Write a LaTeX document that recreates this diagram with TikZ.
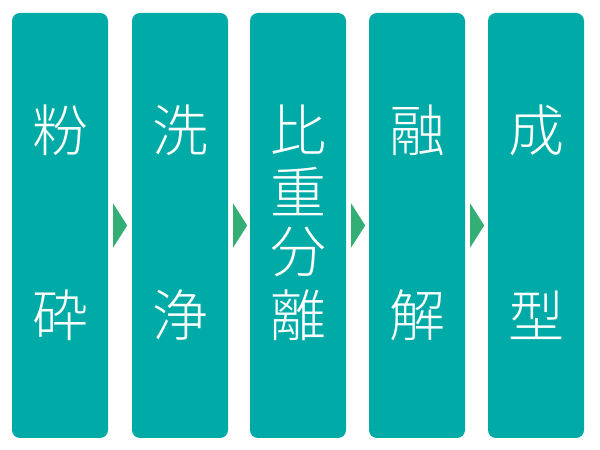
\documentclass[tikz,border=0pt]{standalone}
\usepackage{fontspec}
\newfontfamily\cjk{Noto Sans CJK JP Light}
\usetikzlibrary{calc}
\definecolor{boxteal}{HTML}{00AAA6}
\definecolor{arrgreen}{HTML}{33AE74}
\begin{document}
\begin{tikzpicture}[x=1pt,y=1pt,
  stage/.style={fill=boxteal, draw=none, rounded corners=8pt, minimum width=96pt, minimum height=425pt, inner sep=0pt},
  ch/.style={text=white, font=\cjk\fontsize{56}{56}\selectfont, inner sep=0pt},
  tri/.style={fill=arrgreen, draw=none}]
\useasboundingbox (0,0) rectangle (600,450);
\node[stage] (b1) at (60,224.5) {};
\node[stage] (b2) at (180,224.5) {};
\node[stage] (b3) at (298,224.5) {};
\node[stage] (b4) at (417,224.5) {};
\node[stage] (b5) at (536,224.5) {};
% texts
\node[ch] (t1a) at (60,320) {粉};
\node[ch] (t1b) at (60,135) {砕};
\node[ch] (t2a) at (180,320) {洗};
\node[ch] (t2b) at (180,135) {浄};
\node[ch] (t3a) at (298,320) {比};
\node[ch] (t3b) at (298,258) {重};
\node[ch] (t3c) at (298,198) {分};
\node[ch] (t3d) at (298,135) {離};
\node[ch] (t4a) at (417,320) {融};
\node[ch] (t4b) at (417,135) {解};
\node[ch] (t5a) at (536,320) {成};
\node[ch] (t5b) at (536,135) {型};
% arrows
\foreach \a in {b1,b2,b3,b4}{
  \fill[tri] ($(\a.east)+(5,22)$) -- ($(\a.east)+(19,0)$) -- ($(\a.east)+(5,-22)$) -- cycle;
}
\end{tikzpicture}
\end{document}
